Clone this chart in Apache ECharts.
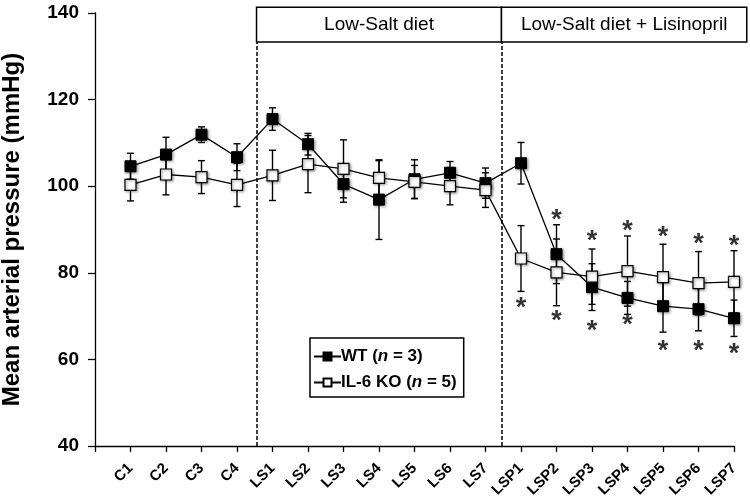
<!DOCTYPE html>
<html><head><meta charset="utf-8">
<script src="https://cdn.jsdelivr.net/npm/echarts@6/dist/echarts.min.js"></script>
<style>html,body{margin:0;padding:0;background:#fff}#c{width:750px;height:500px}</style>
</head><body><div id="c"></div>
<script>
var categories = ['C1','C2','C3','C4','LS1','LS2','LS3','LS4','LS5','LS6','LS7','LSP1','LSP2','LSP3','LSP4','LSP5','LSP6','LSP7'];
var wtMean = [104.6,107.3,111.9,106.7,115.5,109.7,100.5,96.9,101.6,103.1,100.7,105.3,84.3,76.7,74.2,72.3,71.6,69.5];
var wtErr  = [3.0,4.0,1.8,3.1,2.6,2.5,4.2,9.2,4.5,2.6,3.5,4.8,6.8,5.4,3.8,6.0,5.0,4.2];
var koMean = [100.3,102.7,102.1,100.3,102.5,105.1,104.0,101.9,101.0,100.0,99.1,83.3,80.1,79.1,80.4,79.0,77.6,77.9];
var koErr  = [3.7,4.7,3.8,5.0,5.8,6.6,6.7,4.0,3.8,4.3,4.0,7.6,7.7,6.4,8.1,7.6,7.3,7.2];
var starUpperCats = ['LSP2','LSP3','LSP4','LSP5','LSP6','LSP7'];
var starUpperVals = [93.5,88.6,91.0,89.5,87.8,87.4];
var starLowerCats = ['LSP1','LSP2','LSP3','LSP4','LSP5','LSP6','LSP7'];
var starLowerVals = [73.2,70.1,67.8,69.3,63.1,63.1,62.4];
var seriesNames = ['WT','IL-6 KO'];
var seriesN = [3,5];
var yTicks = [40,60,80,100,120,140];
var phaseLabels = ['Low-Salt diet','Low-Salt diet + Lisinopril'];

var FONT = '"Liberation Sans", Arial, sans-serif';
function pos(cat){ return categories.indexOf(cat) + 1; }
function pts(vals){ return vals.map(function(v,i){ return [i+1, v]; }); }
function errPts(vals, errs){ return vals.map(function(v,i){ return [i+1, v-errs[i], v+errs[i]]; }); }
function errSeries(vals, errs){
  return {
    type:'custom', z:1, silent:true,
    data: errPts(vals, errs),
    renderItem: function(params, api){
      var x = api.value(0);
      var lo = api.coord([x, api.value(1)]);
      var hi = api.coord([x, api.value(2)]);
      var w = 3.5;
      var st = {stroke:'#000', lineWidth:1.4};
      return {type:'group', children:[
        {type:'line', shape:{x1:lo[0],y1:lo[1],x2:hi[0],y2:hi[1]}, style:st},
        {type:'line', shape:{x1:lo[0]-w,y1:lo[1],x2:lo[0]+w,y2:lo[1]}, style:st},
        {type:'line', shape:{x1:hi[0]-w,y1:hi[1],x2:hi[0]+w,y2:hi[1]}, style:st}
      ]};
    }
  };
}
var shadow = {shadowBlur:3, shadowColor:'rgba(0,0,0,0.45)', shadowOffsetX:1, shadowOffsetY:1};
var boxTop = 141.3, boxBottom = 133.3;
var splitA = 4.55, splitB = 11.45, boxRight = 18.36;

var chart = echarts.init(document.getElementById('c'), null, {renderer:'canvas'});
chart.setOption({
  animation:false,
  backgroundColor:'#fff',
  grid:{left:95, right:16, top:13, bottom:54, containLabel:false, outerBoundsMode:'none'},
  xAxis:{
    type:'value', min:0, max:18, interval:1,
    axisLine:{lineStyle:{color:'#000', width:1.3}},
    axisTick:{show:true, length:6, lineStyle:{color:'#000', width:1.3}},
    splitLine:{show:false},
    axisLabel:{
      rotate:45, margin:20, color:'#000', fontFamily:FONT, fontWeight:'bold', fontSize:15,
      formatter:function(v){ return categories[v-1] || ''; }
    }
  },
  yAxis:{
    type:'value', min:yTicks[0], max:yTicks[yTicks.length-1], interval:20,
    name:'Mean arterial pressure (mmHg)', nameLocation:'middle', nameGap:71,
    nameTextStyle:{color:'#000', fontFamily:FONT, fontWeight:'bold', fontSize:24},
    axisLine:{show:true, lineStyle:{color:'#000', width:1.3}},
    axisTick:{show:true, length:7, lineStyle:{color:'#000', width:1.3}},
    splitLine:{show:false},
    axisLabel:{color:'#000', fontFamily:FONT, fontWeight:'bold', fontSize:19, margin:16}
  },
  legend:{
    orient:'vertical', left:310, top:338,
    data:seriesNames,
    borderColor:'#000', borderWidth:1.5, padding:[10,7,6,3], itemGap:9,
    itemWidth:27, itemHeight:10,
    formatter:function(name){ var n = seriesN[seriesNames.indexOf(name)]; return '{b|'+name+' (}{i|n}{b| = '+n+')}'; },
    textStyle:{color:'#000', fontFamily:FONT, fontSize:17, fontWeight:'bold', padding:[0,0,0,-5],
      rich:{b:{fontFamily:FONT, fontSize:17, fontWeight:'bold', color:'#000'},
            i:{fontFamily:FONT, fontSize:17, fontWeight:'bold', fontStyle:'italic', color:'#000'}}}
  },
  series:[
    errSeries(wtMean, wtErr),
    errSeries(koMean, koErr),
    {
      name:seriesNames[0], type:'line', z:3,
      data:pts(wtMean), symbol:'rect', symbolSize:11,
      lineStyle:{color:'#000', width:1.3},
      itemStyle:Object.assign({color:'#000', borderColor:'#000', borderWidth:1}, shadow),
      markLine:{
        silent:true, symbol:'none', label:{show:false},
        lineStyle:{color:'#000', type:[4,2], width:1.5},
        data:[
          [{coord:[splitA, 40]},{coord:[splitA, boxBottom]}],
          [{coord:[splitB, 40]},{coord:[splitB, boxBottom]}]
        ]
      }
    },
    {
      name:seriesNames[1], type:'line', z:4,
      data:pts(koMean), symbol:'rect', symbolSize:11,
      lineStyle:{color:'#000', width:1.3},
      itemStyle:Object.assign({color:'#fff', borderColor:'#000', borderWidth:1.2}, shadow)
    },
    {
      type:'scatter', z:5, silent:true,
      data:starUpperCats.map(function(c,i){ return [pos(c), starUpperVals[i]]; })
        .concat(starLowerCats.map(function(c,i){ return [pos(c), starLowerVals[i]]; })),
      symbolSize:1, itemStyle:{color:'rgba(0,0,0,0)'},
      label:{show:true, position:'inside', formatter:'*', color:'#000', fontFamily:FONT, fontWeight:'bold', fontSize:27, offset:[0,6]}
    }
  ]
});

// phase header boxes, positioned through the chart's own coordinate conversion
var bounds = [[splitA, splitB], [splitB, boxRight]];
var graphics = [];
bounds.forEach(function(b, i){
  var p0 = chart.convertToPixel({gridIndex:0}, [b[0], boxTop]);
  var p1 = chart.convertToPixel({gridIndex:0}, [b[1], boxBottom]);
  graphics.push({
    type:'rect', z:10,
    shape:{x:p0[0], y:p0[1], width:p1[0]-p0[0], height:p1[1]-p0[1]},
    style:{fill:'#fff', stroke:'#000', lineWidth:1.5}
  });
  graphics.push({
    type:'text', z:11,
    x:(p0[0]+p1[0])/2, y:(p0[1]+p1[1])/2,
    style:{text:phaseLabels[i], fill:'#000', font:'19px ' + FONT, align:'center', verticalAlign:'middle'}
  });
});
chart.setOption({graphic:graphics});
</script>
</body></html>
